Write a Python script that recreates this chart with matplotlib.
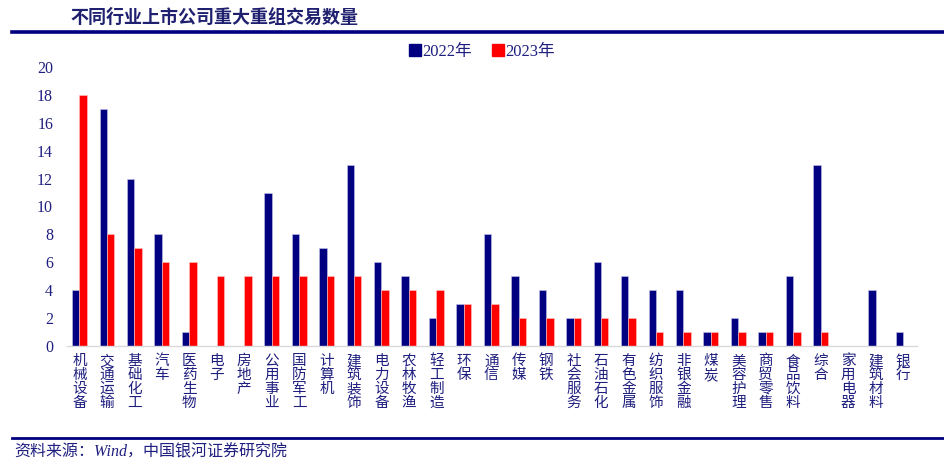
import matplotlib.pyplot as plt
import numpy as np
from matplotlib.patches import Patch
from matplotlib.lines import Line2D

industries = ['机械设备', '交通运输', '基础化工', '汽车', '医药生物', '电子', '房地产',
              '公用事业', '国防军工', '计算机', '建筑装饰', '电力设备', '农林牧渔', '轻工制造',
              '环保', '通信', '传媒', '钢铁', '社会服务', '石油石化', '有色金属', '纺织服饰',
              '非银金融', '煤炭', '美容护理', '商贸零售', '食品饮料', '综合', '家用电器',
              '建筑材料', '银行']
y2022 = [4, 17, 12, 8, 1, 0, 0, 11, 8, 7, 13, 6, 5, 2, 3, 8, 5, 4, 2, 6, 5, 4, 4, 1, 2, 1, 5, 13, 0, 4, 1]
y2023 = [18, 8, 7, 6, 6, 5, 5, 5, 5, 5, 5, 4, 4, 4, 3, 3, 2, 2, 2, 2, 2, 1, 1, 1, 1, 1, 1, 1, 0, 0, 0]
yticks = list(range(0, 21, 2))

navy = '#000080'
red = '#FF0000'
txt = '#1f1f80'
cjk = ['Noto Sans CJK SC', 'DejaVu Sans']
mixed = ['Liberation Serif', 'Noto Sans CJK SC']

fig = plt.figure(figsize=(9.45, 4.66), dpi=100)
ax = fig.add_axes([67 / 945, 1 - 346 / 466, 850 / 945, 279 / 466])

x = np.arange(len(industries))
w = 0.27
ax.bar(x - w / 2, y2022, w, color=navy, edgecolor='#c8c8e8', linewidth=0.4)
ax.bar(x + w / 2, y2023, w, color=red, edgecolor='#ffc8c8', linewidth=0.4)

ax.set_xlim(-0.455, 30.51)
ax.set_ylim(0, 20)
ax.set_yticks(yticks)
ax.set_yticklabels([str(v) for v in yticks], family='Liberation Serif', fontsize=11.5, color=txt)
ax.set_xticks(x)
ax.set_xticklabels(['\n'.join(s) for s in industries], family=cjk, fontsize=10.5,
                   color=txt, va='top', linespacing=0.98)
ax.tick_params(axis='y', length=0, pad=10)
ax.tick_params(axis='x', length=0, pad=6)
for s in ['top', 'right', 'left']:
    ax.spines[s].set_visible(False)
ax.spines['bottom'].set_color('#d9d9d9')
ax.spines['bottom'].set_linewidth(1)

handles = [Patch(color=navy), Patch(color=red)]
fig.legend(handles, ['2022年', '2023年'], loc='center', bbox_to_anchor=(482 / 945, 1 - 52 / 466),
           ncol=2, frameon=False, handlelength=0.7, handleheight=0.7, handletextpad=0.1,
           columnspacing=1.2, prop={'family': mixed, 'size': 12}, labelcolor=txt)

# header and footer
fig.text(70 / 945, 1 - 17 / 466, '不同行业上市公司重大重组交易数量', family=cjk, fontsize=13,
         fontweight='bold', color='#202070', va='center')
fig.add_artist(Line2D([12 / 945, 1], [1 - 32 / 466] * 2, color=navy, linewidth=2.6))
fig.add_artist(Line2D([12 / 945, 1], [1 - 438 / 466] * 2, color=navy, linewidth=2))
fig.text(14 / 945, 1 - 452 / 466, '资料来源：Wind，中国银河证券研究院', family=mixed, fontsize=11.5,
         style='italic', color=txt, va='center')

fig.savefig('out.png', dpi=100)
